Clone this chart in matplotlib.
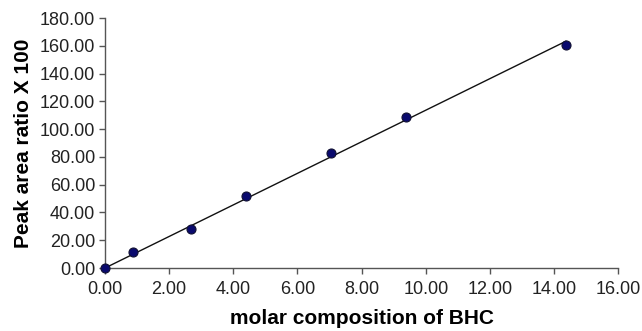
import matplotlib
matplotlib.use("Agg")
import matplotlib.pyplot as plt
import numpy as np

plt.rcParams['font.family'] = ['Liberation Sans', 'DejaVu Sans']

# measured points
molar_bhc = [0.0, 0.88, 2.69, 4.38, 7.05, 9.37, 14.37]
peak_ratio = [0.0, 11.3, 28.1, 51.8, 83.0, 108.5, 160.3]

x_ticks = [0, 2, 4, 6, 8, 10, 12, 14, 16]
y_ticks = [0, 20, 40, 60, 80, 100, 120, 140, 160, 180]

fig = plt.figure(figsize=(6.42, 3.31), dpi=100)
ax = fig.add_axes([0.1636, 0.1903, 0.7994, 0.7553])

# linear trend line through origin
slope = np.sum(np.array(molar_bhc) * np.array(peak_ratio)) / np.sum(np.array(molar_bhc) ** 2)
xl = np.array([0, max(molar_bhc)])
ax.plot(xl, slope * xl, color='#111111', lw=1.0, zorder=2)

ax.plot(molar_bhc, peak_ratio, 'o', color='#0a0a6e', mec='#111133', mew=0.8,
        ms=6.5, zorder=3, clip_on=False)

ax.set_xlim(0, 16)
ax.set_ylim(0, 180)
ax.set_xticks(x_ticks)
ax.set_yticks(y_ticks)
ax.set_xticklabels([f'{v:.2f}' for v in x_ticks])
ax.set_yticklabels([f'{v:.2f}' for v in y_ticks])

for s in ['top', 'right']:
    ax.spines[s].set_visible(False)
for s in ['left', 'bottom']:
    ax.spines[s].set_color('#555555')
    ax.spines[s].set_linewidth(1.0)
ax.tick_params(direction='out', length=4, width=1, color='#555555',
               labelsize=13, labelcolor='#222222', pad=3)
ax.tick_params(axis='x', pad=5)

ax.set_xlabel('molar composition of BHC', fontsize=15, fontweight='bold', labelpad=8)
ax.set_ylabel('Peak area ratio X 100', fontsize=15, fontweight='bold', labelpad=5)

fig.savefig('out.png', dpi=100)
